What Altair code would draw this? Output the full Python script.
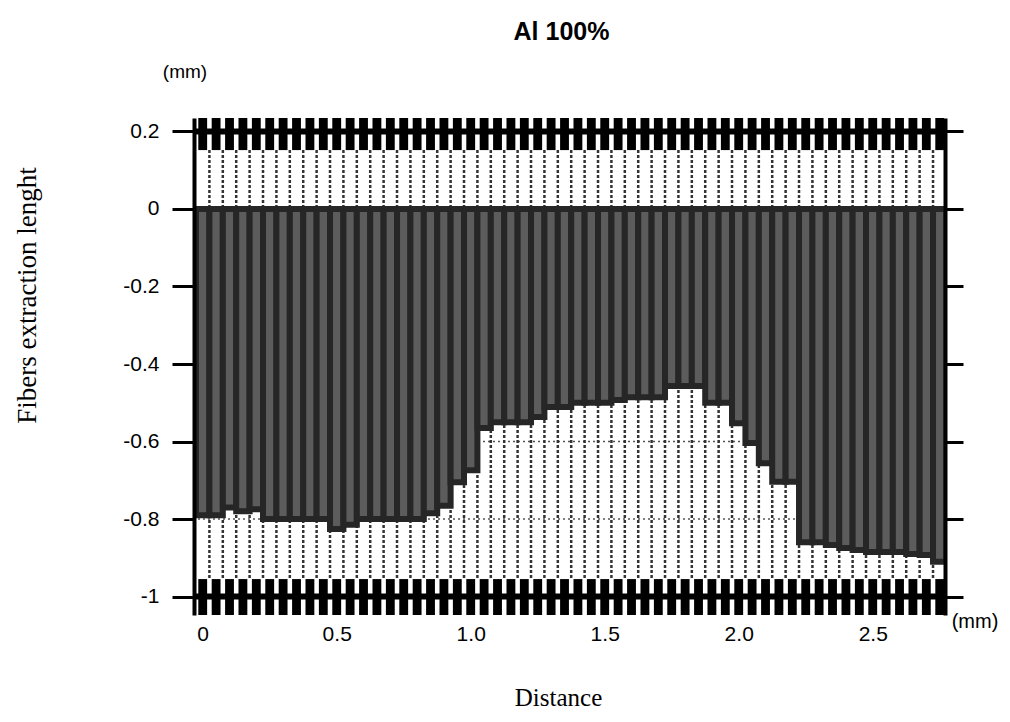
import altair as alt
import pandas as pd

# Distance bins (mm) and measured fiber extraction length (mm)
distance = [round(0.05 * i, 2) for i in range(56)]
extraction = [-0.79, -0.79, -0.77, -0.78, -0.775, -0.80, -0.80, -0.80, -0.80, -0.80,
              -0.826, -0.815, -0.80, -0.80, -0.80, -0.80, -0.80, -0.785, -0.766, -0.705,
              -0.674, -0.565, -0.55, -0.55, -0.55, -0.537, -0.511, -0.511, -0.50, -0.50,
              -0.50, -0.493, -0.486, -0.486, -0.486, -0.457, -0.457, -0.457, -0.50, -0.50,
              -0.553, -0.604, -0.656, -0.704, -0.704, -0.86, -0.86, -0.867, -0.875, -0.88,
              -0.885, -0.885, -0.885, -0.89, -0.893, -0.91]
y_ticks = [0.2, 0, -0.2, -0.4, -0.6, -0.8, -1]
x_ticks = [0, 0.5, 1.0, 1.5, 2.0, 2.5]
grid_lines = [-0.2, -0.4, -0.6, -0.8]
band_lines = [0.2, -1.0]
unit_label = ["(mm)"]

X_DOMAIN = [-0.0325, 2.7697]
Y_DOMAIN = [-1.0477, 0.2348]
xs = alt.Scale(domain=X_DOMAIN, nice=False, zero=False)
ys = alt.Scale(domain=Y_DOMAIN, nice=False, zero=False)

df = pd.DataFrame({"d": distance, "v": extraction})
grid_df = pd.DataFrame({"g": grid_lines})
band_df = pd.DataFrame({"b": band_lines})
unit_df = pd.DataFrame({"u": unit_label})

left_axis = alt.Axis(
    orient="left", values=y_ticks, labelExpr="'' + datum.value",
    labelFont="Liberation Sans", labelFontSize=21, labelColor="black", labelPadding=13,
    labelFlush=False,
    tickSize=22, tickWidth=3, tickColor="black",
    domainWidth=4, domainColor="black", grid=False,
    title="Fibers extraction lenght", titleFont="Liberation Serif", titleFontSize=27,
    titleFontWeight="normal", titleColor="black", titleX=-167, titleY=177,
    titleAngle=270, titleAlign="center", titleBaseline="middle", zindex=1,
)
right_axis = alt.Axis(
    orient="right", values=y_ticks, labels=False,
    tickSize=18, tickWidth=3, tickColor="black",
    domainWidth=4, domainColor="black", grid=False, title=None, zindex=1,
)
x_axis = alt.Axis(
    orient="bottom", values=x_ticks,
    labelExpr="datum.value == 0 ? '0' : format(datum.value, '.1f')",
    labelFont="Liberation Sans", labelFontSize=21, labelColor="black", labelPadding=8,
    labelFlush=False, ticks=False, domain=False, grid=False,
    title="Distance", titleFont="Liberation Serif", titleFontSize=25,
    titleFontWeight="normal", titleColor="black", titleX=364, titleY=90,
    titleAlign="center", titleBaseline="alphabetic",
)

grid = alt.Chart(grid_df).mark_rule(strokeDash=[2, 3], strokeWidth=1.5, color="#555555").encode(
    y=alt.Y("g:Q", scale=ys, axis=left_axis)
)

dots = alt.Chart(df).transform_calculate(
    xb="datum.d + 0.025", top="0.152", bot="-0.952"
).mark_rule(strokeDash=[3, 2], strokeWidth=2.5, color="#333333", clip=True).encode(
    x=alt.X("xb:Q", scale=xs, axis=x_axis),
    y=alt.Y("top:Q", scale=ys, axis=None),
    y2="bot:Q",
)

bars = alt.Chart(df).transform_calculate(
    x0="datum.d - 0.025", x1="datum.d + 0.025", zero="0"
).mark_rect(fill="#5c5c5c", stroke="#262626", strokeWidth=6, clip=True).encode(
    x=alt.X("x0:Q", scale=xs, axis=x_axis),
    x2="x1:Q",
    y=alt.Y("zero:Q", scale=ys, axis=None),
    y2="v:Q",
)

teeth_top = alt.Chart(df).transform_calculate(
    t0="datum.d - 0.0165", t1="datum.d + 0.0165", a="0.152", b="0.2348"
).mark_rect(fill="black", clip=True).encode(
    x=alt.X("t0:Q", scale=xs, axis=x_axis), x2="t1:Q",
    y=alt.Y("a:Q", scale=ys, axis=None), y2="b:Q",
)

teeth_bot = alt.Chart(df).transform_calculate(
    t0="datum.d - 0.0165", t1="datum.d + 0.0165", a="-0.955", b="-1.0477"
).mark_rect(fill="black", clip=True).encode(
    x=alt.X("t0:Q", scale=xs, axis=x_axis), x2="t1:Q",
    y=alt.Y("a:Q", scale=ys, axis=None), y2="b:Q",
)

bands = alt.Chart(band_df).mark_rule(strokeWidth=6, color="black").encode(
    y=alt.Y("b:Q", scale=ys, axis=right_axis)
)

mm_left = alt.Chart(unit_df).mark_text(
    font="Liberation Sans", fontSize=19, color="black"
).encode(text="u:N", x=alt.value(-9), y=alt.value(-46))

mm_right = alt.Chart(unit_df).mark_text(
    font="Liberation Sans", fontSize=20, color="black"
).encode(text="u:N", x=alt.value(781), y=alt.value(504))

chart = alt.layer(
    grid, dots, bars, teeth_top, teeth_bot, bands, mm_left, mm_right
).resolve_axis(y="independent").properties(
    width=751, height=497,
    autosize=alt.AutoSizeParams(type="none"),
    padding={"left": 186, "top": 110, "right": 57, "bottom": 99},
    background="white",
    title=alt.TitleParams(
        "Al 100%", font="Liberation Sans", fontSize=25, fontWeight="bold",
        color="black", anchor="middle", frame="group", offset=18, dx=-8,
    ),
).configure_view(stroke=None)

chart.save("out.html", embed_options={"renderer": "svg", "actions": False})
